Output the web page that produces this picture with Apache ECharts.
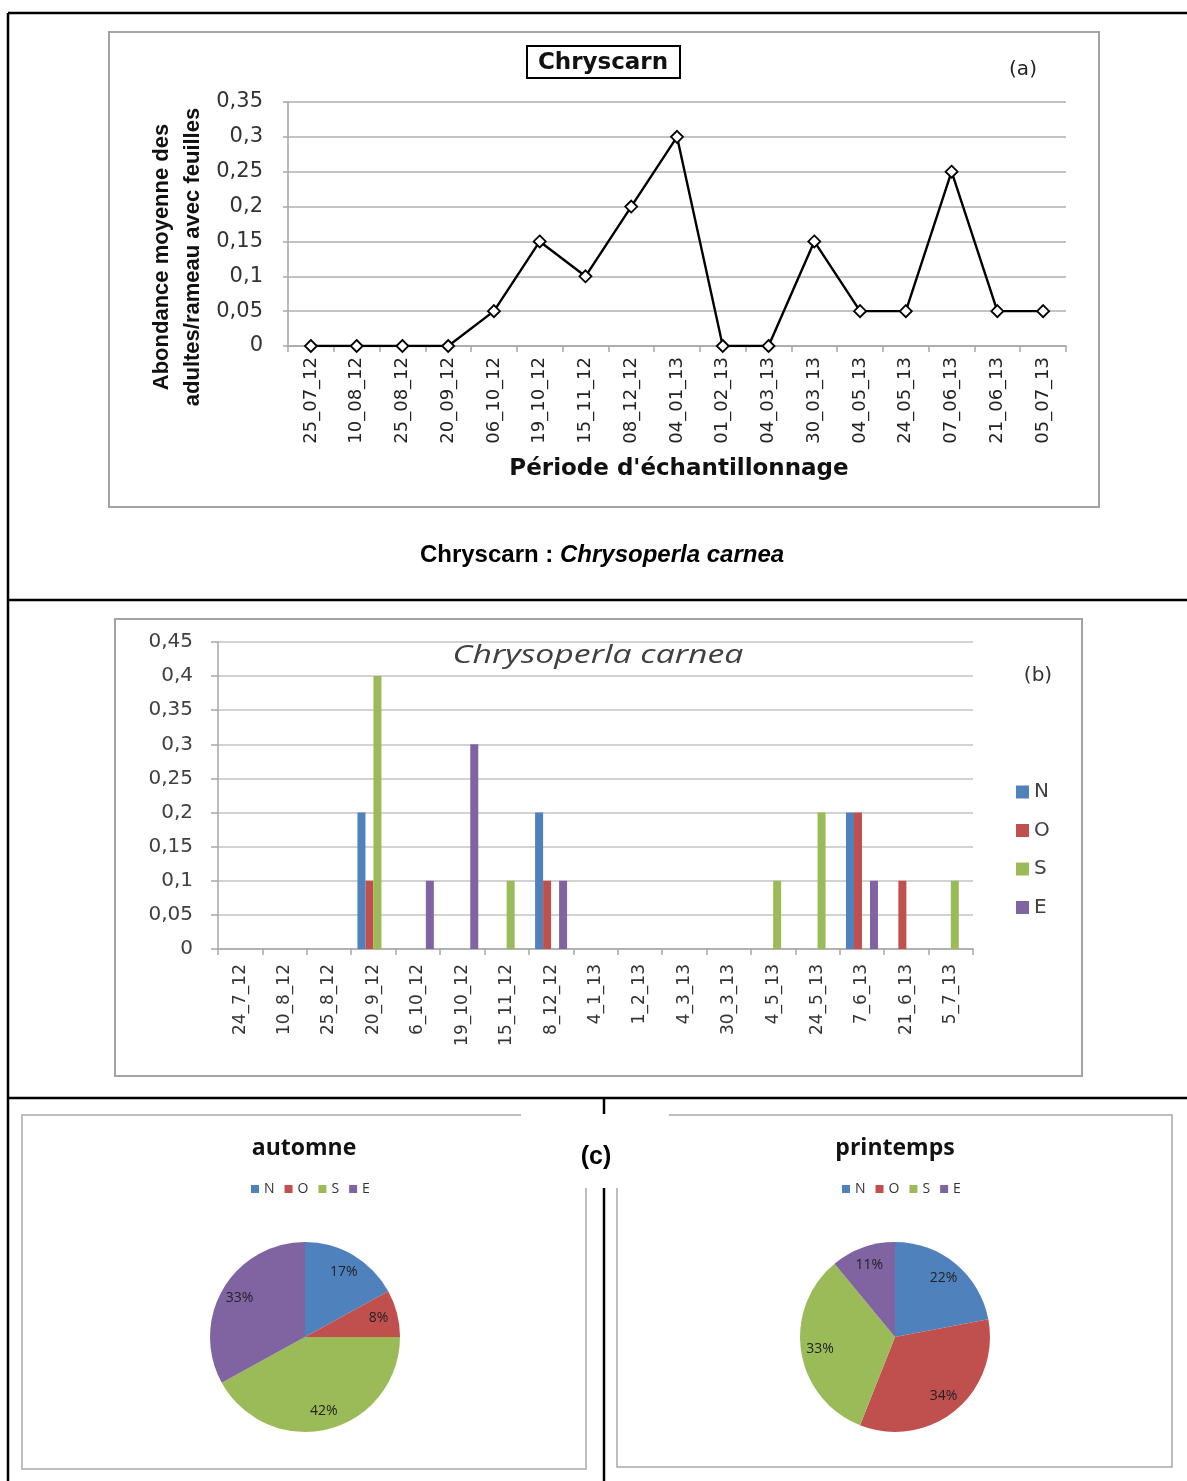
<!DOCTYPE html>
<html>
<head>
<meta charset="utf-8">
<script src="https://cdn.jsdelivr.net/npm/echarts@6/dist/echarts.min.js"></script>
<style>
  html, body { margin: 0; padding: 0; background: #fff; }
  #chart { width: 1187px; height: 1481px; }
</style>
</head>
<body>
<div id="chart"></div>
<script>
// (a) Abondance moyenne des adultes par rameau, par date de prélèvement
const datesA = ['25_07_12', '10_08_12', '25_08_12', '20_09_12', '06_10_12', '19_10_12',
  '15_11_12', '08_12_12', '04_01_13', '01_02_13', '04_03_13', '30_03_13', '04_05_13',
  '24_05_13', '07_06_13', '21_06_13', '05_07_13'];
const abundance = [0, 0, 0, 0, 0.05, 0.15, 0.1, 0.2, 0.3, 0, 0, 0.15, 0.05, 0.05, 0.25, 0.05, 0.05];

// (b) Abondance par orientation de l'arbre
const datesB = ['24_7_12', '10_8_12', '25_8_12', '20_9_12', '6_10_12', '19_10_12', '15_11_12',
  '8_12_12', '4_1_13', '1_2_13', '4_3_13', '30_3_13', '4_5_13', '24_5_13', '7_6_13',
  '21_6_13', '5_7_13'];
const valN = [0, 0, 0, 0.2, 0, 0, 0, 0.2, 0, 0, 0, 0, 0, 0, 0.2, 0, 0];
const valO = [0, 0, 0, 0.1, 0, 0, 0, 0.1, 0, 0, 0, 0, 0, 0, 0.2, 0.1, 0];
const valS = [0, 0, 0, 0.4, 0, 0, 0.1, 0, 0, 0, 0, 0, 0.1, 0.2, 0, 0, 0.1];
const valE = [0, 0, 0, 0, 0.1, 0.3, 0, 0.1, 0, 0, 0, 0, 0, 0, 0.1, 0, 0];

// (c) Répartition saisonnière (%)
const orientations = ['N', 'O', 'S', 'E'];
const autumnPct = [17, 8, 42, 33];
const springPct = [22, 34, 33, 11];

const colors = ['#4F81BD', '#C0504D', '#9BBB59', '#8064A2'];
const barValues = [valN, valO, valS, valE];

const commaFmt = v => String(Math.round(v * 100) / 100).replace('.', ',');
const GRID_GRAY = '#c3c3c3';
const AXIS_GRAY = '#a6a6a6';

function pieData(pct) {
  return orientations.map((n, i) => ({ name: n, value: pct[i], itemStyle: { color: colors[i] } }));
}

function pieSeries(name, cx, pct) {
  return [
    {
      name: name, type: 'pie', center: [cx, 1337], radius: 95,
      startAngle: 90, clockwise: true, silent: true,
      label: { show: false }, labelLine: { show: false },
      itemStyle: { borderWidth: 0 },
      data: pieData(pct)
    },
    {
      // anneau transparent qui porte les étiquettes
      name: name + '-labels', type: 'pie', center: [cx, 1337], radius: [51, 95],
      startAngle: 90, clockwise: true, silent: true,
      itemStyle: { color: 'rgba(0,0,0,0)', borderWidth: 0 },
      label: {
        show: true, position: 'inside', formatter: '{c}%',
        fontFamily: 'Open Sans', fontSize: 14, color: '#222'
      },
      labelLine: { show: false },
      data: pct.map((v, i) => ({ name: orientations[i], value: v }))
    }
  ];
}

function pieLegend(left) {
  return {
    data: orientations, orient: 'horizontal', left: left, top: 1182, padding: 0,
    icon: 'rect', itemWidth: 8, itemHeight: 8, itemGap: 10,
    textStyle: { fontFamily: 'Open Sans', fontSize: 14, color: '#333' },
    selectedMode: false
  };
}

const frameStyle = { stroke: '#000', lineWidth: 2.5 };
const boxStyle = { fill: null, stroke: '#a3a3a3', lineWidth: 2 };
const pieBoxStyle = { fill: null, stroke: '#a8a8a8', lineWidth: 1.5 };

const option = {
  backgroundColor: '#fff',
  animation: false,
  grid: [
    { left: 288, top: 102, right: 121, bottom: 1135, outerBoundsMode: 'none' },
    { left: 218, top: 642, right: 214, bottom: 532, outerBoundsMode: 'none' }
  ],
  xAxis: [
    {
      gridIndex: 0, type: 'category', data: datesA, boundaryGap: true,
      axisLine: { lineStyle: { color: AXIS_GRAY, width: 1.5 } },
      axisTick: { show: true, length: 6, interval: 0, lineStyle: { color: AXIS_GRAY, width: 1.5 } },
      axisLabel: { rotate: 90, interval: 0, margin: 11, fontFamily: 'DejaVu Sans', fontSize: 18, color: '#222' }
    },
    {
      gridIndex: 1, type: 'category', data: datesB, boundaryGap: true,
      axisLine: { lineStyle: { color: AXIS_GRAY, width: 1.5 } },
      axisTick: { show: true, length: 6, interval: 0, lineStyle: { color: AXIS_GRAY, width: 1.5 } },
      axisLabel: { rotate: 90, interval: 0, margin: 15, fontFamily: 'DejaVu Sans', fontSize: 17, color: '#333' }
    }
  ],
  yAxis: [
    {
      gridIndex: 0, type: 'value', min: 0, max: 0.35, interval: 0.05,
      axisLine: { show: true, lineStyle: { color: AXIS_GRAY, width: 1.5 } },
      axisTick: { show: true, length: 5, lineStyle: { color: AXIS_GRAY, width: 1.5 } },
      splitLine: { show: true, lineStyle: { color: GRID_GRAY, width: 2 } },
      axisLabel: { formatter: commaFmt, margin: 25, fontFamily: 'DejaVu Sans', fontSize: 21, color: '#333' }
    },
    {
      gridIndex: 1, type: 'value', min: 0, max: 0.45, interval: 0.05,
      axisLine: { show: true, lineStyle: { color: AXIS_GRAY, width: 1.5 } },
      axisTick: { show: true, length: 7, lineStyle: { color: AXIS_GRAY, width: 1.5 } },
      splitLine: { show: true, lineStyle: { color: GRID_GRAY, width: 1.5 } },
      axisLabel: { formatter: commaFmt, margin: 25, fontFamily: 'DejaVu Sans', fontSize: 20, color: '#404040' }
    }
  ],
  legend: [
    {
      data: orientations, orient: 'vertical', left: 1016, top: 782, padding: 0,
      icon: 'rect', itemWidth: 13, itemHeight: 13, itemGap: 18.5,
      textStyle: { fontFamily: 'DejaVu Sans', fontSize: 20, color: '#404040' },
      selectedMode: false
    },
    pieLegend(251),
    pieLegend(842)
  ],
  series: [
    {
      name: 'Chryscarn', type: 'line', xAxisIndex: 0, yAxisIndex: 0, data: abundance,
      symbol: 'diamond', symbolSize: 12, showAllSymbol: true,
      lineStyle: { color: '#000', width: 2.4 },
      itemStyle: { color: '#fff', borderColor: '#000', borderWidth: 1.8 },
      silent: true
    },
    ...orientations.map((n, i) => ({
      name: n, type: 'bar', xAxisIndex: 1, yAxisIndex: 1, data: barValues[i],
      barWidth: 8, barGap: '0%', itemStyle: { color: colors[i] }, silent: true
    })),
    ...pieSeries('automne', 305, autumnPct),
    ...pieSeries('printemps', 895, springPct)
  ],
  graphic: [
    // cadre du tableau
    { type: 'line', shape: { x1: 8, y1: 13, x2: 1187, y2: 13 }, style: frameStyle },
    { type: 'line', shape: { x1: 8, y1: 13, x2: 8, y2: 1481 }, style: frameStyle },
    { type: 'line', shape: { x1: 8, y1: 600, x2: 1187, y2: 600 }, style: frameStyle },
    { type: 'line', shape: { x1: 8, y1: 1098, x2: 1187, y2: 1098 }, style: frameStyle },
    { type: 'line', shape: { x1: 604, y1: 1098, x2: 604, y2: 1114 }, style: frameStyle },
    { type: 'line', shape: { x1: 604, y1: 1188, x2: 604, y2: 1481 }, style: frameStyle },

    // (a)
    { type: 'rect', shape: { x: 109, y: 32, width: 990, height: 475 }, style: boxStyle, z: -1 },
    { type: 'rect', shape: { x: 527, y: 46, width: 153, height: 32 }, style: { fill: '#fff', stroke: '#000', lineWidth: 2 } },
    { type: 'text', x: 603, y: 63, style: { text: 'Chryscarn', fontFamily: 'DejaVu Sans', fontWeight: 'bold', fontSize: 23, fill: '#111', align: 'center', verticalAlign: 'middle' } },
    { type: 'text', x: 1023, y: 70, style: { text: '(a)', fontFamily: 'DejaVu Sans', fontSize: 20, fill: '#222', align: 'center', verticalAlign: 'middle' } },
    { type: 'text', x: 177, y: 257, rotation: Math.PI / 2, style: {
        text: 'Abondance moyenne des\nadultes/rameau avec feuilles', fontFamily: 'Liberation Sans',
        fontWeight: 'bold', fontSize: 22, lineHeight: 31, fill: '#111', align: 'center', verticalAlign: 'middle' } },
    { type: 'text', x: 679, y: 469, style: { text: "Période d'échantillonnage", fontFamily: 'DejaVu Sans', fontWeight: 'bold', fontSize: 23, fill: '#111', align: 'center', verticalAlign: 'middle' } },

    // légende de la figure
    { type: 'text', x: 602, y: 555, style: {
        text: '{b|Chryscarn : }{bi|Chrysoperla carnea}', align: 'center', verticalAlign: 'middle',
        rich: {
          b: { fontFamily: 'Liberation Sans', fontWeight: 'bold', fontSize: 24, fill: '#000' },
          bi: { fontFamily: 'Liberation Sans', fontWeight: 'bold', fontStyle: 'italic', fontSize: 24, fill: '#000' }
        } } },

    // (b)
    { type: 'rect', shape: { x: 115, y: 619, width: 967, height: 457 }, style: boxStyle, z: -1 },
    { type: 'text', x: 598, y: 656, scaleX: 1.35, style: { text: 'Chrysoperla carnea', fontFamily: 'Open Sans', fontStyle: 'italic', fontSize: 25, fill: '#404040', align: 'center', verticalAlign: 'middle' } },
    { type: 'text', x: 1038, y: 676, style: { text: '(b)', fontFamily: 'DejaVu Sans', fontSize: 20, fill: '#333', align: 'center', verticalAlign: 'middle' } },

    // (c)
    { type: 'text', x: 596, y: 1157, style: { text: '(c)', fontFamily: 'Liberation Sans', fontWeight: 'bold', fontSize: 25, fill: '#000', align: 'center', verticalAlign: 'middle' } },
    { type: 'polyline', shape: { points: [[521, 1115], [22, 1115], [22, 1469], [586, 1469], [586, 1188]] }, style: pieBoxStyle },
    { type: 'polyline', shape: { points: [[669, 1115], [1172, 1115], [1172, 1467], [617, 1467], [617, 1188]] }, style: pieBoxStyle },
    { type: 'text', x: 304, y: 1148, style: { text: 'automne', fontFamily: 'Open Sans', fontWeight: 'bold', fontSize: 23, fill: '#111', align: 'center', verticalAlign: 'middle' } },
    { type: 'text', x: 895, y: 1148, style: { text: 'printemps', fontFamily: 'Open Sans', fontWeight: 'bold', fontSize: 23, fill: '#111', align: 'center', verticalAlign: 'middle' } }
  ]
};

const chart = echarts.init(document.getElementById('chart'), null, { renderer: 'canvas' });
chart.setOption(option);
</script>
</body>
</html>
